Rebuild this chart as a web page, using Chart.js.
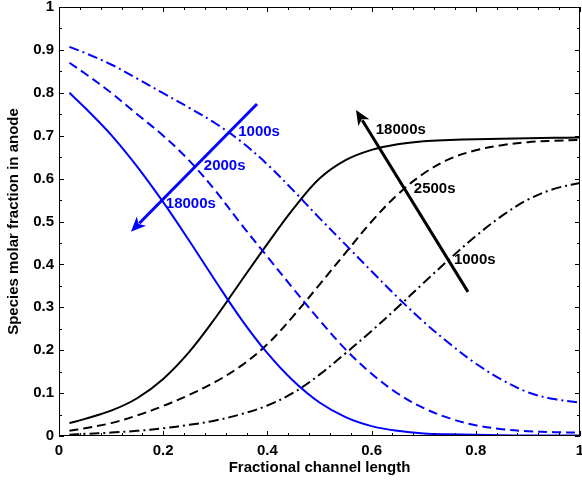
<!DOCTYPE html>
<html>
<head>
<meta charset="utf-8">
<script src="https://cdn.jsdelivr.net/npm/chart.js@4.4.1/dist/chart.umd.min.js"></script>
<style>
    html, body { margin: 0; padding: 0; background: #fff; }
</style>
</head>
<body>
<canvas id="canvas-grafico" width="582" height="486"></canvas>
<script>
// positions along the channel (shared by every curve)
var fraction_x = [0.02, 0.05, 0.1, 0.15, 0.2, 0.25, 0.3, 0.35, 0.4, 0.45, 0.5, 0.55, 0.6, 0.65, 0.7, 0.75, 0.8, 0.85, 0.9, 0.95, 1.0];

// blue curves (decreasing species)
var blue_18000s = [0.80, 0.765, 0.702, 0.628, 0.545, 0.455, 0.362, 0.272, 0.193, 0.128, 0.078, 0.044, 0.023, 0.012, 0.006, 0.004, 0.003, 0.002, 0.001, 0.001, 0.001];
var blue_2000s = [0.87, 0.845, 0.80, 0.75, 0.70, 0.642, 0.572, 0.493, 0.418, 0.343, 0.27, 0.202, 0.145, 0.099, 0.065, 0.041, 0.025, 0.016, 0.011, 0.009, 0.008];
var blue_1000s = [0.907, 0.893, 0.866, 0.833, 0.799, 0.765, 0.729, 0.686, 0.633, 0.572, 0.508, 0.446, 0.384, 0.323, 0.266, 0.215, 0.169, 0.131, 0.102, 0.086, 0.078];

// black curves (increasing species)
var black_18000s = [0.030, 0.040, 0.059, 0.088, 0.133, 0.196, 0.275, 0.362, 0.448, 0.530, 0.600, 0.643, 0.667, 0.680, 0.687, 0.690, 0.692, 0.693, 0.694, 0.695, 0.696];
var black_2500s = [0.012, 0.018, 0.03, 0.048, 0.07, 0.096, 0.126, 0.164, 0.214, 0.28, 0.353, 0.427, 0.5, 0.563, 0.612, 0.646, 0.666, 0.678, 0.685, 0.688, 0.69];
var black_1000s = [0.003, 0.005, 0.008, 0.012, 0.018, 0.026, 0.036, 0.051, 0.071, 0.101, 0.143, 0.193, 0.245, 0.3, 0.357, 0.413, 0.466, 0.513, 0.551, 0.576, 0.59];

// axis ticks
var x_ticks = [0, 0.2, 0.4, 0.6, 0.8, 1];
var y_ticks = [0, 0.1, 0.2, 0.3, 0.4, 0.5, 0.6, 0.7, 0.8, 0.9, 1];

// arrows, in data units: [tail, tip]
var arrow_blue = [[0.380, 0.774], [0.138, 0.476]];
var arrow_black = [[0.785, 0.336], [0.570, 0.760]];

// time labels, left edge and middle in data units
var label_text = ["1000s", "2000s", "18000s", "18000s", "2500s", "1000s"];
var label_x = [0.344, 0.278, 0.205, 0.608, 0.681, 0.758];
var label_y = [0.709, 0.630, 0.541, 0.714, 0.576, 0.411];
var label_color = ["#0000ff", "#0000ff", "#0000ff", "#000000", "#000000", "#000000"];

var FONT = "'Liberation Sans', Arial, sans-serif";

function pares(ys) {
    var out = [];
    for (var i = 0; i < fraction_x.length; i++) {
        out.push({ x: fraction_x[i], y: ys[i] });
    }
    return out;
}

function serie(ys, cor, traco) {
    return {
        data: pares(ys),
        borderColor: cor,
        borderWidth: 2,
        borderDash: traco,
        pointRadius: 0,
        fill: false,
        tension: 0.35
    };
}

function formatar(v) {
    return String(Math.round(v * 10) / 10);
}

function seta(ctx, sx, sy, pts, cor) {
    var x0 = sx.getPixelForValue(pts[0][0]), y0 = sy.getPixelForValue(pts[0][1]);
    var x1 = sx.getPixelForValue(pts[1][0]), y1 = sy.getPixelForValue(pts[1][1]);
    var ang = Math.atan2(y1 - y0, x1 - x0);
    var comp = 15, meia = 6.5;
    ctx.strokeStyle = cor;
    ctx.fillStyle = cor;
    ctx.lineWidth = 3;
    ctx.beginPath();
    ctx.moveTo(x0, y0);
    ctx.lineTo(x1 - Math.cos(ang) * (comp - 3), y1 - Math.sin(ang) * (comp - 3));
    ctx.stroke();
    var bx = x1 - Math.cos(ang) * comp, by = y1 - Math.sin(ang) * comp;
    ctx.beginPath();
    ctx.moveTo(x1, y1);
    ctx.lineTo(bx + Math.sin(ang) * meia, by - Math.cos(ang) * meia);
    ctx.lineTo(x1 - Math.cos(ang) * (comp - 4), y1 - Math.sin(ang) * (comp - 4));
    ctx.lineTo(bx - Math.sin(ang) * meia, by + Math.cos(ang) * meia);
    ctx.closePath();
    ctx.fill();
}

// box, matlab style inward ticks, arrows and time labels
var moldura_plugin = {
    id: 'moldura',
    afterDatasetsDraw: function(chart) {
        var ctx = chart.ctx, a = chart.chartArea;
        var sx = chart.scales.x, sy = chart.scales.y;
        ctx.save();
        ctx.strokeStyle = '#000';
        ctx.lineWidth = 1;
        ctx.strokeRect(a.left + 0.5, a.top + 0.5, a.right - a.left - 1, a.bottom - a.top - 1);

        ctx.beginPath();
        for (var i = 0; i <= 25; i++) {
            var px = Math.round(sx.getPixelForValue(i * 0.04)) + 0.5;
            var len = (i % 5 === 0) ? 5 : 3;
            ctx.moveTo(px, a.bottom);
            ctx.lineTo(px, a.bottom - len);
            ctx.moveTo(px, a.top);
            ctx.lineTo(px, a.top + len);
        }
        for (var j = 0; j <= 20; j++) {
            var py = Math.round(sy.getPixelForValue(j * 0.05)) + 0.5;
            var l2 = (j % 2 === 0) ? 5 : 3;
            ctx.moveTo(a.left, py);
            ctx.lineTo(a.left + l2, py);
            ctx.moveTo(a.right, py);
            ctx.lineTo(a.right - l2, py);
        }
        ctx.stroke();

        seta(ctx, sx, sy, arrow_blue, '#0000ff');
        seta(ctx, sx, sy, arrow_black, '#000000');

        ctx.font = "bold 15px " + FONT;
        ctx.textAlign = 'left';
        ctx.textBaseline = 'middle';
        for (var k = 0; k < label_text.length; k++) {
            ctx.fillStyle = label_color[k];
            ctx.fillText(label_text[k], sx.getPixelForValue(label_x[k]), sy.getPixelForValue(label_y[k]));
        }
        ctx.restore();
    }
};

var canvas = document.getElementById('canvas-grafico');
var fonte_eixo = { family: FONT, size: 15, weight: 'bold' };

var chart = new Chart(canvas, {
    type: 'line',
    data: {
        datasets: [
            serie(blue_18000s, '#0000ff', []),
            serie(blue_2000s, '#0000ff', [9, 5]),
            serie(blue_1000s, '#0000ff', [10, 4, 2, 4]),
            serie(black_18000s, '#000000', []),
            serie(black_2500s, '#000000', [9, 5]),
            serie(black_1000s, '#000000', [10, 4, 2, 4])
        ]
    },
    options: {
        responsive: false,
        animation: false,
        layout: { padding: { top: 7, right: 2, left: 0, bottom: 0 } },
        plugins: { legend: { display: false }, tooltip: { enabled: false } },
        scales: {
            x: {
                type: 'linear',
                min: 0,
                max: 1,
                grid: { display: false, drawTicks: false },
                border: { display: false },
                afterBuildTicks: function(s) {
                    s.ticks = x_ticks.map(function(v) { return { value: v }; });
                },
                ticks: { padding: 6, color: '#000', font: fonte_eixo, maxRotation: 0, autoSkip: false, callback: formatar },
                title: { display: true, text: 'Fractional channel length', color: '#000', font: fonte_eixo, padding: { top: 0, bottom: 9 } },
                afterFit: function(s) {
                    s.height = 50;
                    s.paddingLeft = 0;
                    s.paddingRight = 0;
                }
            },
            y: {
                type: 'linear',
                min: 0,
                max: 1,
                grid: { display: false, drawTicks: false },
                border: { display: false },
                afterBuildTicks: function(s) {
                    s.ticks = y_ticks.map(function(v) { return { value: v }; });
                },
                ticks: { padding: 5, color: '#000', font: fonte_eixo, autoSkip: false, callback: formatar },
                title: { display: true, text: 'Species molar fraction in anode', color: '#000', font: fonte_eixo, padding: { top: 5, bottom: 0 } },
                afterFit: function(s) {
                    s.width = 59;
                    s.paddingTop = 0;
                    s.paddingBottom = 0;
                }
            }
        }
    },
    plugins: [moldura_plugin]
});
</script>
</body>
</html>
